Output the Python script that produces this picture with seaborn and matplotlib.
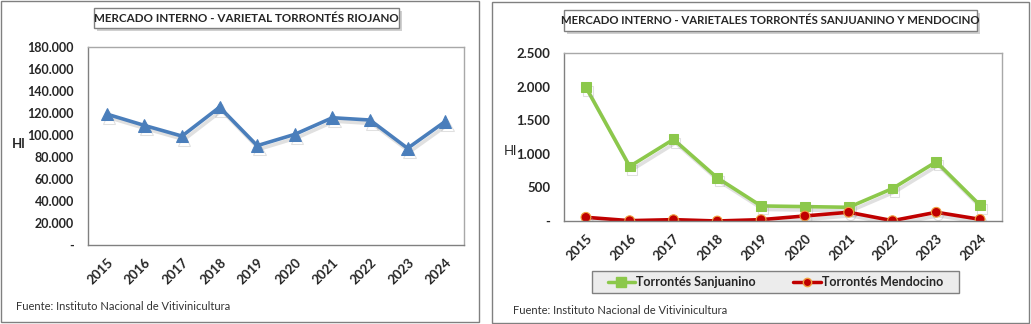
import matplotlib
matplotlib.use("Agg")
import matplotlib.pyplot as plt
import matplotlib.patheffects as pe
from matplotlib.patches import Rectangle
from matplotlib.lines import Line2D
from matplotlib.ticker import FuncFormatter, FixedLocator
import seaborn as sns
import pandas as pd

years = ["2015", "2016", "2017", "2018", "2019", "2020", "2021", "2022", "2023", "2024"]
riojano = [119000, 108700, 99000, 125300, 90300, 100600, 115700, 113600, 87900, 112300]
sanjuanino = [1990, 812, 1215, 642, 224, 214, 204, 483, 881, 234]
mendocino = [55, 5, 20, 0, 20, 75, 130, 5, 130, 25]

title_left = "MERCADO INTERNO - VARIETAL TORRONTÉS RIOJANO"
title_right = "MERCADO INTERNO - VARIETALES TORRONTÉS SANJUANINO Y MENDOCINO"
source = "Fuente: Instituto Nacional de Vitivinicultura"
ylabel = "Hl"
series_names = ["Torrontés Sanjuanino", "Torrontés Mendocino"]

sns.set_theme(style="white")
FONT = ["Lato", "DejaVu Sans"]
plt.rcParams["font.family"] = FONT

W, H = 1031, 324
fig = plt.figure(figsize=(W / 100, H / 100), dpi=100)

GREEN = "#8cc84b"
RED = "#c00000"
BLUE = "#4a7ebb"


def ax_px(x0, y0, x1, y1):
    return fig.add_axes([x0 / W, 1 - y1 / H, (x1 - x0) / W, (y1 - y0) / H])


def fmt(v, pos):
    if abs(v) < 1e-9:
        return "-"
    return f"{int(round(v)):,}".replace(",", ".")


def style_axis(ax, ymax, ystep, ysize):
    ax.set_xlim(-0.5, len(years) - 0.5)
    ax.set_ylim(0, ymax)
    ax.yaxis.set_major_locator(FixedLocator(list(range(0, ymax + 1, ystep))))
    ax.yaxis.set_major_formatter(FuncFormatter(fmt))
    ax.set_xticks(range(len(years)))
    ax.set_xticklabels(years, rotation=45, ha="right", rotation_mode="anchor",
                       fontsize=9.5, fontweight="bold")
    ax.xaxis.set_minor_locator(FixedLocator([i - 0.5 for i in range(len(years) + 1)]))
    ax.tick_params(axis="x", which="major", length=0, pad=8)
    ax.tick_params(axis="x", which="minor", length=5, color="#808080", direction="out")
    ax.tick_params(axis="y", length=5, color="#808080", direction="out", labelsize=ysize, pad=5)
    for lab in ax.get_yticklabels():
        lab.set_fontweight("bold")
    for s in ax.spines.values():
        s.set_color("#a8a8a8")
        s.set_linewidth(1)
    ax.spines["left"].set_color("#808080")
    ax.spines["bottom"].set_color("#808080")
    ax.set_xlabel("")
    ax.set_ylabel("")
    ax.grid(False)


shadow = [pe.SimpleLineShadow(offset=(1.5, -2.5), shadow_color="#999999", alpha=0.3), pe.Normal()]

# Left chart
axL = ax_px(88, 47, 464, 245)
dfL = pd.DataFrame({"year": years, "value": riojano})
sns.lineplot(data=dfL, x="year", y="value", ax=axL, color=BLUE, linewidth=2.6,
             marker="^", markersize=9, markeredgecolor=BLUE, sort=False,
             path_effects=shadow)
style_axis(axL, 180000, 20000, 9)
fig.text(12 / W, 1 - 144 / H, ylabel, fontsize=9.5, fontweight="bold", va="center", ha="left")

# Right chart
axR = ax_px(564, 53, 1002, 221)
dfR = pd.DataFrame({
    "year": years * 2,
    "value": sanjuanino + mendocino,
    "serie": [series_names[0]] * len(years) + [series_names[1]] * len(years),
})
sns.lineplot(data=dfR, x="year", y="value", hue="serie", style="serie",
             palette={series_names[0]: GREEN, series_names[1]: RED},
             markers={series_names[0]: "s", series_names[1]: "o"},
             dashes=False, linewidth=2.6, markersize=7, sort=False, ax=axR,
             path_effects=shadow, legend=False)
for ln in axR.get_lines():
    if ln.get_color() == RED:
        ln.set_markeredgecolor("#f0a040")
        ln.set_markeredgewidth(0.8)
    else:
        ln.set_markeredgecolor(GREEN)
style_axis(axR, 2500, 500, 9.5)
fig.text(504 / W, 1 - 151 / H, ylabel, fontsize=9.5, va="center", ha="left")

# Legend
handles = [Line2D([], [], color=GREEN, marker="s", markersize=7, linewidth=2.5,
                  markeredgecolor=GREEN),
           Line2D([], [], color=RED, marker="o", markersize=6, linewidth=2.5,
                  markeredgecolor="#f0a040")]
fig.patches.append(Rectangle((592 / W, 1 - 293 / H), (959 - 592) / W, 22 / H,
                             transform=fig.transFigure, facecolor="#ececec",
                             edgecolor="#808080", linewidth=1, zorder=1))
leg = fig.legend(handles, series_names,
                 loc="center", bbox_to_anchor=((592 + 959) / 2 / W, 1 - 282 / H),
                 ncol=2, frameon=False, prop={"family": FONT, "weight": "bold", "size": 9},
                 handlelength=2.2, columnspacing=3.0, handletextpad=0.1)
leg.set_zorder(3)


def title_box(x0, y0, x1, y1, text, size):
    fig.patches.append(Rectangle(((x0 + 3) / W, 1 - (y1 + 3) / H), (x1 - x0) / W, (y1 - y0) / H,
                                 transform=fig.transFigure, facecolor="#d0d0d0",
                                 edgecolor="none", zorder=1))
    fig.patches.append(Rectangle((x0 / W, 1 - y1 / H), (x1 - x0) / W, (y1 - y0) / H,
                                 transform=fig.transFigure, facecolor="white",
                                 edgecolor="#808080", linewidth=1, zorder=2))
    fig.text((x0 + x1) / 2 / W, 1 - (y0 + y1) / 2 / H, text, ha="center", va="center",
             fontsize=size, fontweight="bold", zorder=3)


title_box(94, 8, 399, 28, title_left, 8.4)
title_box(564, 10, 977, 31, title_right, 8.2)

# Panel borders
fig.patches.append(Rectangle((1 / W, 1 - 322 / H), 478 / W, 321 / H, transform=fig.transFigure,
                             facecolor="none", edgecolor="#808080", linewidth=1, zorder=0))
fig.patches.append(Rectangle((492 / W, 1 - 323 / H), 537 / W, 321 / H, transform=fig.transFigure,
                             facecolor="none", edgecolor="#808080", linewidth=1, zorder=0))

fig.text(16 / W, 1 - 307 / H, source, fontsize=8, va="center", ha="left", color="#333333")
fig.text(513 / W, 1 - 311 / H, source, fontsize=8, va="center", ha="left", color="#333333")

fig.savefig("out.png", dpi=100)
